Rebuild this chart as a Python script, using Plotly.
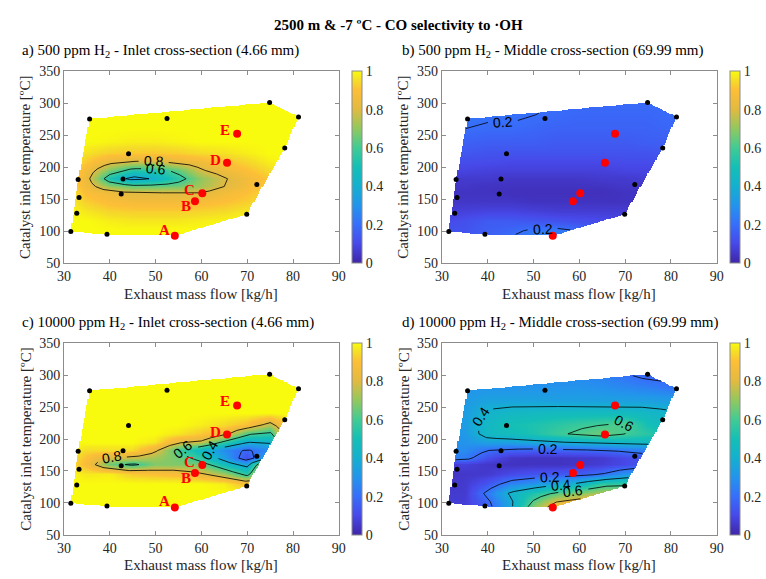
import math
import numpy as np
import plotly.graph_objects as go

W, H = 766, 579

# ---------------------------------------------------------------- data
# measured operating points: exhaust mass flow [kg/h], catalyst inlet temperature [ºC]
point_flow = [31.5, 39.4, 32.8, 33.3, 33.1, 35.6, 52.5, 44.1, 42.9, 42.5, 69.9, 72.1, 78.2, 81.2, 74.9]
point_temp = [99.6, 95.1, 128.0, 152.7, 181.0, 275.6, 276.2, 221.0, 181.6, 158.3, 126.5, 173.0, 230.0, 278.7, 301.4]

# highlighted cases
case_flow = [54.2, 58.6, 60.2, 65.6, 67.8]
case_temp = [93.0, 147.0, 159.4, 206.9, 252.4]
case_names = ["A", "B", "C", "D", "E"]

# CO selectivity to ·OH sampled on a flow x temperature grid (rows follow grid_temp)
grid_flow = [30, 35, 40, 45, 50, 55, 60, 65, 70, 75, 80, 85]
grid_temp = [90, 100, 115, 130, 145, 160, 170, 182, 195, 208, 222, 240, 260, 280, 300]

sel_500_inlet = [
    [1, 1, 1, 1, 1, 1, 1, 1, 1, 1, 1, 1],
    [1, 1, 1, 1, 1, 1, 1, 1, 1, 1, 1, 1],
    [1, 1, .98, .97, .97, .97, .98, .99, 1, 1, 1, 1],
    [1, .97, .94, .93, .93, .93, .94, .95, .97, .99, 1, 1],
    [1, .93, .89, .87, .87, .87, .88, .90, .93, .97, 1, 1],
    [1, .89, .85, .80, .80, .80, .80, .86, .90, .95, 1, 1],
    [1, .86, .70, .64, .64, .66, .72, .80, .87, .93, 1, 1],
    [1, .84, .52, .35, .42, .55, .70, .79, .86, .92, 1, 1],
    [1, .87, .68, .55, .55, .64, .79, .85, .90, .95, 1, 1],
    [1, .92, .83, .79, .78, .83, .86, .90, .94, .98, 1, 1],
    [1, .96, .93, .92, .92, .93, .95, .96, .98, 1, 1, 1],
    [1, 1, .99, .98, .98, .99, 1, 1, 1, 1, 1, 1],
    [1, 1, 1, 1, 1, 1, 1, 1, 1, 1, 1, 1],
    [1, 1, 1, 1, 1, 1, 1, 1, 1, 1, 1, 1],
    [1, 1, 1, 1, 1, 1, 1, 1, 1, 1, 1, 1],
]

sel_500_middle = [
    [.14, .14, .16, .20, .25, .26, .23, .17, .15, .14, .14, .14],
    [.13, .13, .16, .18, .22, .23, .20, .15, .13, .12, .12, .12],
    [.10, .12, .15, .15, .14, .13, .12, .11, .10, .10, .10, .10],
    [.07, .08, .09, .09, .08, .07, .07, .07, .07, .07, .07, .07],
    [.05, .05, .05, .05, .04, .04, .04, .04, .04, .05, .05, .05],
    [.04, .04, .04, .03, .03, .03, .03, .03, .04, .04, .05, .05],
    [.05, .05, .04, .04, .04, .04, .04, .04, .05, .05, .06, .06],
    [.06, .06, .06, .05, .05, .05, .05, .06, .06, .07, .08, .08],
    [.09, .09, .08, .08, .08, .08, .08, .08, .09, .09, .10, .10],
    [.11, .11, .11, .10, .10, .10, .10, .10, .11, .11, .12, .12],
    [.14, .14, .13, .13, .13, .13, .13, .13, .13, .13, .14, .14],
    [.17, .17, .16, .16, .16, .15, .15, .15, .15, .16, .16, .16],
    [.20, .20, .19, .19, .18, .17, .17, .17, .17, .17, .18, .18],
    [.22, .22, .21, .21, .20, .19, .18, .18, .18, .18, .19, .19],
    [.23, .23, .22, .22, .21, .20, .19, .19, .19, .19, .19, .19],
]

sel_10000_inlet = [
    [1, 1, 1, 1, 1, 1, 1, 1, 1, 1, 1, 1],
    [1, 1, 1, 1, 1, 1, 1, 1, 1, 1, 1, 1],
    [1, 1, 1, 1, 1, 1, 1, 1, 1, 1, 1, 1],
    [1, 1, 1, 1, 1, 1, 1, .98, .88, 1, 1, 1],
    [1, .97, .98, .92, .90, .88, .82, .72, .55, 1, 1, 1],
    [1, .88, .66, .57, .68, .68, .66, .48, .35, .95, 1, 1],
    [1, .90, .78, .77, .72, .66, .55, .34, .12, .40, 1, 1],
    [1, .95, .95, .95, .82, .60, .45, .28, .18, .28, 1, 1],
    [1, 1, 1, 1, .97, .82, .78, .58, .40, .42, 1, 1],
    [1, 1, 1, 1, 1, .97, .92, .85, .62, .56, 1, 1],
    [1, 1, 1, 1, 1, 1, .98, .95, .90, .75, 1, 1],
    [1, 1, 1, 1, 1, 1, 1, 1, 1, 1, 1, 1],
    [1, 1, 1, 1, 1, 1, 1, 1, 1, 1, 1, 1],
    [1, 1, 1, 1, 1, 1, 1, 1, 1, 1, 1, 1],
    [1, 1, 1, 1, 1, 1, 1, 1, 1, 1, 1, 1],
]

sel_10000_middle = [
    [.08, .08, .15, .38, .70, .92, .93, .93, .93, .93, .93, .93],
    [.07, .07, .17, .37, .63, .82, .89, .91, .91, .91, .91, .91],
    [.06, .06, .23, .42, .52, .62, .68, .74, .76, .76, .76, .76],
    [.05, .06, .13, .25, .30, .36, .42, .55, .56, .57, .57, .57],
    [.05, .05, .06, .10, .13, .14, .15, .20, .30, .35, .35, .35],
    [.06, .08, .05, .04, .04, .04, .05, .07, .10, .15, .15, .15],
    [.24, .24, .12, .05, .04, .04, .05, .06, .10, .14, .20, .20],
    [.28, .28, .20, .17, .16, .17, .18, .19, .22, .25, .30, .30],
    [.30, .30, .35, .35, .38, .39, .42, .43, .45, .45, .45, .45],
    [.30, .32, .45, .48, .52, .58, .62, .66, .60, .55, .50, .50],
    [.30, .33, .45, .50, .52, .55, .58, .60, .62, .50, .45, .45],
    [.30, .33, .42, .45, .46, .47, .47, .47, .47, .45, .42, .42],
    [.30, .32, .35, .35, .35, .34, .34, .34, .34, .34, .33, .33],
    [.30, .30, .30, .30, .30, .30, .30, .29, .27, .25, .22, .22],
    [.28, .28, .28, .28, .28, .28, .27, .25, .21, .17, .17, .17],
]

contour_levels = [0.2, 0.4, 0.6, 0.8]

# ---------------------------------------------------------------- styling
SERIF = "Liberation Serif"
SANS = "Liberation Sans"
AXIS_GREY = "#8c8c8c"
TEXT_GREY = "#262626"

parula = [
    [0.00, "rgb(62,38,168)"],
    [0.10, "rgb(71,72,232)"],
    [0.20, "rgb(55,110,250)"],
    [0.30, "rgb(35,148,236)"],
    [0.40, "rgb(20,176,208)"],
    [0.50, "rgb(20,191,182)"],
    [0.60, "rgb(65,203,148)"],
    [0.70, "rgb(145,200,95)"],
    [0.80, "rgb(225,186,65)"],
    [0.90, "rgb(253,190,55)"],
    [0.95, "rgb(245,220,40)"],
    [1.00, "rgb(249,251,14)"],
]

# plot boxes in pixels: (left, right, top, bottom, colorbar left edge)
boxes = [
    (58, 338, 66, 263, 351),
    (443, 723, 66, 263, 736),
    (58, 338, 345, 542, 351),
    (443, 723, 345, 542, 736),
]
X_RANGE = (30, 90)
Y_RANGE = (50, 350)
PX_X = (338 - 58) / (X_RANGE[1] - X_RANGE[0])
PX_Y = (263 - 66) / (Y_RANGE[1] - Y_RANGE[0])

panels = [
    dict(z=sel_500_inlet, title="a) 500 ppm H<sub>2</sub> - Inlet cross-section (4.66 mm)", named=True),
    dict(z=sel_500_middle, title="b) 500 ppm H<sub>2</sub> - Middle cross-section (69.99 mm)", named=False),
    dict(z=sel_10000_inlet, title="c) 10000 ppm H<sub>2</sub> - Inlet cross-section (4.66 mm)", named=True),
    dict(z=sel_10000_middle, title="d) 10000 ppm H<sub>2</sub> - Middle cross-section (69.99 mm)", named=False),
]

# label offsets (px) of the case letters relative to their markers
name_shift = {"A": (-10, 6), "B": (-9, -5), "C": (-13, 3), "D": (-12, 3), "E": (-12, 4)}


# ---------------------------------------------------------------- geometry helpers
def convex_hull(xs, ys):
    pts = sorted(set(zip(xs, ys)))

    def cross(o, a, b):
        return (a[0] - o[0]) * (b[1] - o[1]) - (a[1] - o[1]) * (b[0] - o[0])

    lower, upper = [], []
    for p in pts:
        while len(lower) >= 2 and cross(lower[-2], lower[-1], p) <= 0:
            lower.pop()
        lower.append(p)
    for p in reversed(pts):
        while len(upper) >= 2 and cross(upper[-2], upper[-1], p) <= 0:
            upper.pop()
        upper.append(p)
    return lower[:-1] + upper[:-1]


all_flow = point_flow + case_flow
all_temp = point_temp + case_temp
hull = convex_hull(all_flow, all_temp)

FX = np.linspace(30, 85, 221)
FY = np.linspace(90, 303, 214)
GX, GY = np.meshgrid(FX, FY)
inside = np.ones_like(GX, dtype=bool)
for k in range(len(hull)):
    (ax, ay), (bx, by) = hull[k], hull[(k + 1) % len(hull)]
    inside &= (bx - ax) * (GY - ay) - (by - ay) * (GX - ax) >= 0


def surface(values):
    v = np.asarray(values, dtype=float)
    along_flow = np.array([np.interp(FX, grid_flow, row) for row in v])
    fine = np.array([np.interp(FY, grid_temp, along_flow[:, c]) for c in range(len(FX))]).T
    fine[~inside] = np.nan
    return fine


def contour_paths(Z, level):
    valid = np.isfinite(Z)
    above = np.where(valid, Z, -1) > level
    ok = valid[:-1, :-1] & valid[1:, :-1] & valid[:-1, 1:] & valid[1:, 1:]
    a00, a01 = above[:-1, :-1], above[:-1, 1:]
    a10, a11 = above[1:, :-1], above[1:, 1:]
    mixed = ok & ~((a00 == a01) & (a00 == a10) & (a00 == a11))
    segs = []
    for i, j in zip(*np.nonzero(mixed)):
        e = []
        if a00[i, j] != a01[i, j]:
            e.append(("h", i, j))
        if a01[i, j] != a11[i, j]:
            e.append(("v", i, j + 1))
        if a11[i, j] != a10[i, j]:
            e.append(("h", i + 1, j))
        if a10[i, j] != a00[i, j]:
            e.append(("v", i, j))
        if len(e) == 2:
            segs.append((e[0], e[1]))
        else:
            centre = Z[i:i + 2, j:j + 2].mean() > level
            if centre == a00[i, j]:
                segs += [(e[0], e[1]), (e[2], e[3])]
            else:
                segs += [(e[3], e[0]), (e[1], e[2])]

    def xy(key):
        kind, i, j = key
        if kind == "h":
            z0, z1 = Z[i, j], Z[i, j + 1]
            t = (level - z0) / (z1 - z0)
            return FX[j] + t * (FX[j + 1] - FX[j]), FY[i]
        z0, z1 = Z[i, j], Z[i + 1, j]
        t = (level - z0) / (z1 - z0)
        return FX[j], FY[i] + t * (FY[i + 1] - FY[i])

    adj = {}
    for a, b in segs:
        adj.setdefault(a, []).append(b)
        adj.setdefault(b, []).append(a)
    seen = set()
    paths = []
    starts = [k for k, v in adj.items() if len(v) == 1] + list(adj.keys())
    for s in starts:
        if s in seen:
            continue
        path = [s]
        seen.add(s)
        cur = s
        closed = False
        while True:
            nxt = [n for n in adj[cur] if n not in seen]
            if not nxt:
                if len(path) > 2 and s in adj[cur]:
                    path.append(s)
                    closed = True
                break
            cur = nxt[0]
            seen.add(cur)
            path.append(cur)
        paths.append((np.array([xy(k) for k in path]), closed))
    return paths


def split_for_label(P, closed, text):
    """Return line pieces with a gap for the label and the label placement."""
    if closed:
        body = P[:-1]
        top = int(np.argmax(body[:, 1]))
        body = np.roll(body, len(body) // 2 - top, axis=0)
        P = np.vstack([body, body[:1]])
    d = np.hypot(np.diff(P[:, 0]) * PX_X, np.diff(P[:, 1]) * PX_Y)
    s = np.concatenate([[0.0], np.cumsum(d)])
    total = s[-1]
    half = 4 + 3.8 * len(text)
    min_len = 80 if closed else 2.6 * half + 16
    if total < min_len:
        return [P], None
    s0 = total / 2
    x0, y0 = np.interp(s0, s, P[:, 0]), np.interp(s0, s, P[:, 1])
    xa, ya = np.interp(s0 - half, s, P[:, 0]), np.interp(s0 - half, s, P[:, 1])
    xb, yb = np.interp(s0 + half, s, P[:, 0]), np.interp(s0 + half, s, P[:, 1])
    ang = math.degrees(math.atan2((yb - ya) * PX_Y, (xb - xa) * PX_X))
    if ang > 90:
        ang -= 180
    if ang < -90:
        ang += 180
    first = P[s <= s0 - half]
    second = P[s >= s0 + half]
    pieces = [np.vstack([first, [[xa, ya]]]), np.vstack([[[xb, yb]], second])]
    return pieces, (x0, y0, -ang)


# ---------------------------------------------------------------- figure
fig = go.Figure()
annotations = []
layout_axes = {}

for idx, (panel, box) in enumerate(zip(panels, boxes)):
    left, right, top, bottom, cb_left = box
    n = "" if idx == 0 else str(idx + 1)
    xref, yref = "x" + n, "y" + n
    Z = surface(panel["z"])

    fig.add_trace(go.Heatmap(
        x=FX, y=FY, z=Z, zmin=0, zmax=1, colorscale=parula, zsmooth=False,
        hoverinfo="skip", xaxis=xref, yaxis=yref, showscale=True,
        colorbar=dict(
            x=cb_left / W, xanchor="left", xpad=0,
            y=1 - (top + bottom) / 2 / H, yanchor="middle", ypad=0,
            len=(bottom - top) / H, lenmode="fraction",
            thickness=10, thicknessmode="pixels",
            outlinewidth=1, outlinecolor=AXIS_GREY,
            tickvals=[0, 0.2, 0.4, 0.6, 0.8, 1],
            ticktext=["0", "0.2", "0.4", "0.6", "0.8", "1"],
            ticks="", tickfont=dict(family=SERIF, size=14, color=TEXT_GREY),
        ),
    ))

    lx, ly = [], []
    for level in contour_levels:
        text = f"{level:.1f}"
        for P, closed in contour_paths(Z, level):
            pieces, lab = split_for_label(P, closed, text)
            for piece in pieces:
                lx += list(piece[:, 0]) + [None]
                ly += list(piece[:, 1]) + [None]
            if lab is not None:
                annotations.append(dict(
                    x=lab[0], y=lab[1], xref=xref, yref=yref, text=text,
                    showarrow=False, textangle=lab[2],
                    font=dict(family=SANS, size=14, color="black"),
                ))
    fig.add_trace(go.Scatter(
        x=lx, y=ly, mode="lines", line=dict(color="black", width=0.8),
        hoverinfo="skip", xaxis=xref, yaxis=yref, showlegend=False,
    ))

    fig.add_trace(go.Scatter(
        x=point_flow, y=point_temp, mode="markers",
        marker=dict(color="black", size=5), xaxis=xref, yaxis=yref, showlegend=False,
    ))
    fig.add_trace(go.Scatter(
        x=case_flow, y=case_temp, mode="markers",
        marker=dict(color="#ff0000", size=8), xaxis=xref, yaxis=yref, showlegend=False,
    ))
    if panel["named"]:
        for fx_, fy_, name in zip(case_flow, case_temp, case_names):
            dx, dy = name_shift[name]
            annotations.append(dict(
                x=fx_, y=fy_, xref=xref, yref=yref, text=f"<b>{name}</b>",
                showarrow=False, xshift=dx, yshift=dy,
                font=dict(family=SERIF, size=15, color="#ff0000"),
            ))

    axis_common = dict(
        showgrid=False, zeroline=False, showline=True, mirror="ticks",
        linecolor=AXIS_GREY, linewidth=1, ticks="inside", ticklen=4,
        tickcolor=AXIS_GREY, tickfont=dict(family=SERIF, size=14, color=TEXT_GREY),
    )
    layout_axes["xaxis" + n] = dict(
        axis_common, domain=[left / W, right / W], range=list(X_RANGE),
        tickvals=list(range(30, 91, 10)), anchor=yref,
    )
    layout_axes["yaxis" + n] = dict(
        axis_common, domain=[1 - bottom / H, 1 - top / H], range=list(Y_RANGE),
        tickvals=list(range(50, 351, 50)), anchor=xref,
    )

    # panel texts
    annotations.append(dict(
        x=(13 if left < 200 else 400) / W, y=1 - (top - 21) / H, xref="paper", yref="paper",
        xanchor="left", yanchor="middle", text=panel["title"], showarrow=False,
        font=dict(family=SERIF, size=15, color="black"),
    ))
    annotations.append(dict(
        x=(left + right) / 2 / W, y=1 - min(bottom + 32, H - 6) / H, xref="paper", yref="paper",
        xanchor="center", yanchor="middle", text="Exhaust mass flow [kg/h]", showarrow=False,
        font=dict(family=SERIF, size=15, color=TEXT_GREY),
    ))
    annotations.append(dict(
        x=(left - 39) / W, y=1 - (top + bottom) / 2 / H, xref="paper", yref="paper",
        xanchor="center", yanchor="middle", text="Catalyst inlet temperature [ºC]",
        textangle=-90, showarrow=False,
        font=dict(family=SERIF, size=15, color=TEXT_GREY),
    ))

annotations.append(dict(
    x=399 / W, y=1 - 18 / H, xref="paper", yref="paper", xanchor="center", yanchor="middle",
    text="<b>2500 m & -7 ºC - CO selectivity to ·OH</b>", showarrow=False,
    font=dict(family=SERIF, size=15, color="black"),
))

fig.update_layout(
    width=W, height=H, margin=dict(l=0, r=0, t=0, b=0),
    paper_bgcolor="white", plot_bgcolor="white", showlegend=False,
    annotations=annotations, **layout_axes,
)

fig.write_html("out.html")
